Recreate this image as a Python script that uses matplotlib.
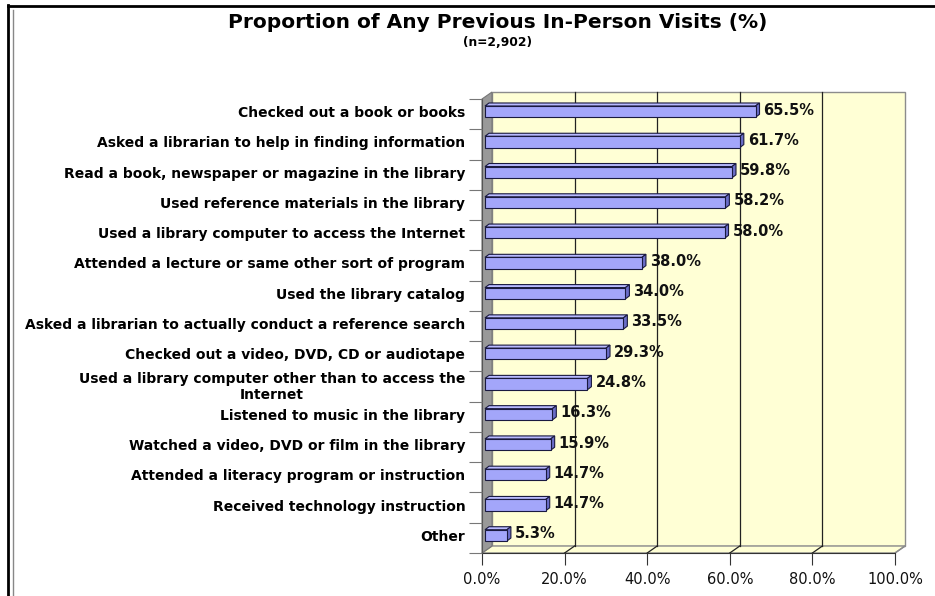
import matplotlib
matplotlib.use("Agg")
import matplotlib.pyplot as plt
from matplotlib.patches import Polygon, Rectangle
from matplotlib.lines import Line2D
import numpy as np

plt.rcParams['font.family'] = ['DejaVu Sans']

categories = [
    "Checked out a book or books",
    "Asked a librarian to help in finding information",
    "Read a book, newspaper or magazine in the library",
    "Used reference materials in the library",
    "Used a library computer to access the Internet",
    "Attended a lecture or same other sort of program",
    "Used the library catalog",
    "Asked a librarian to actually conduct a reference search",
    "Checked out a video, DVD, CD or audiotape",
    "Used a library computer other than to access the\nInternet",
    "Listened to music in the library",
    "Watched a video, DVD or film in the library",
    "Attended a literacy program or instruction",
    "Received technology instruction",
    "Other",
]
values = [65.5, 61.7, 59.8, 58.2, 58.0, 38.0, 34.0, 33.5, 29.3, 24.8,
          16.3, 15.9, 14.7, 14.7, 5.3]
xticks = [0, 20, 40, 60, 80, 100]

W, H = 935, 596
fig = plt.figure(figsize=(W / 100, H / 100), dpi=100)
fig.patch.set_facecolor('white')

# axes: front plane from x=482..895 px, y=99..553 px (from top)
left, right, top, bottom = 482, 895, 99, 553
ax = fig.add_axes([left / W, 1 - bottom / H, (right - left) / W, (bottom - top) / H])
n = len(categories)
ax.set_xlim(0, 100)
ax.set_ylim(n - 0.5, -0.5)
ax.set_facecolor('none')

ppx = (right - left) / 100.0      # px per percent
ppy = (bottom - top) / n          # px per category

def dx(px):
    return px / ppx

def dy(px):
    return px / ppy

wall_color = '#FFFFD5'
edge_gray = '#8C8C8C'
wdx, wdy = dx(10), dy(7)
y0, y1 = -0.5, n - 0.5

# back wall
ax.add_patch(Rectangle((wdx, y0 - wdy), 100, n, facecolor=wall_color,
                       edgecolor=edge_gray, lw=1, clip_on=False, zorder=0))
# floor
ax.add_patch(Polygon([(0, y1), (100, y1), (100 + wdx, y1 - wdy), (wdx, y1 - wdy)],
                     closed=True, facecolor=wall_color, edgecolor=edge_gray,
                     lw=1, clip_on=False, zorder=0.5))
# left wall
ax.add_patch(Polygon([(0, y0), (wdx, y0 - wdy), (wdx, y1 - wdy), (0, y1)],
                     closed=True, facecolor='#999999', edgecolor='#777777',
                     lw=0.8, clip_on=False, zorder=0.6))
# gridlines on wall and floor
for t in xticks[1:-1]:
    ax.add_line(Line2D([t + wdx, t + wdx], [y1 - wdy, y0 - wdy], color='#222222',
                       lw=0.9, clip_on=False, zorder=0.7))
    ax.add_line(Line2D([t, t + wdx], [y1, y1 - wdy], color='#222222',
                       lw=0.9, clip_on=False, zorder=0.7))
ax.add_line(Line2D([100, 100 + wdx], [y1, y1 - wdy], color=edge_gray,
                   lw=1, clip_on=False, zorder=0.7))

# bars with 3D faces
bx0 = dx(3)
bshift = dy(2.5)
bh = dy(11.3)
bdx, bdy = dx(4), dy(3)
front_c = '#A3A6FA'
top_c = '#B8BAFF'
side_c = '#6A6DC8'
edge_c = '#1A1A40'
for i, v in enumerate(values):
    yc = i - bshift
    ytop = yc - bh / 2
    ybot = yc + bh / 2
    x1 = bx0 + v
    ax.add_patch(Polygon([(bx0, ytop), (x1, ytop), (x1 + bdx, ytop - bdy), (bx0 + bdx, ytop - bdy)],
                         closed=True, facecolor=top_c, edgecolor=edge_c, lw=0.8, zorder=2))
    ax.add_patch(Polygon([(x1, ytop), (x1, ybot), (x1 + bdx, ybot - bdy), (x1 + bdx, ytop - bdy)],
                         closed=True, facecolor=side_c, edgecolor=edge_c, lw=0.8, zorder=2))
    ax.add_patch(Rectangle((bx0, ytop), v, bh, facecolor=front_c,
                           edgecolor=edge_c, lw=0.8, zorder=3))
    ax.text(x1 + bdx + dx(4), yc - dy(1.5), f"{v:.1f}%", ha='left', va='center',
            fontsize=10.5, fontweight='bold', color='#111111', zorder=5)

# axes styling
for s in ['top', 'right']:
    ax.spines[s].set_visible(False)
ax.spines['left'].set_color('#555555')
ax.spines['bottom'].set_color('#333333')
ax.spines['left'].set_zorder(1)
ax.spines['bottom'].set_zorder(1)

ax.set_xticks(xticks)
ax.set_xticklabels([f"{t:.1f}%" for t in xticks])
ax.tick_params(axis='x', direction='out', length=8.6, width=0.8, color='#333333',
               pad=5, labelsize=10.5, labelcolor='#111111')

ax.set_yticks(np.arange(n) - dy(2.5))
ax.set_yticklabels(categories, fontweight='bold', fontsize=10, multialignment='center')
ax.set_yticks(np.arange(n + 1) - 0.5, minor=True)
ax.tick_params(axis='y', which='major', length=0, pad=12)
ax.tick_params(axis='y', which='minor', direction='out', length=9.4, width=0.8,
               color='#777777')

# title
fig.text(498 / W, 1 - 22 / H, "Proportion of Any Previous In-Person Visits (%)",
         ha='center', va='center', fontsize=14.5, fontweight='bold')
fig.text(498 / W, 1 - 43 / H, "(n=2,902)", ha='center', va='center',
         fontsize=8.8, fontweight='bold')

# frame lines
fig.add_artist(Line2D([7.5 / W, 1], [1 - 5.5 / H, 1 - 5.5 / H], transform=fig.transFigure,
                      color='black', lw=2))
fig.add_artist(Line2D([7.5 / W, 7.5 / W], [1 - 5 / H, 0], transform=fig.transFigure,
                      color='black', lw=2))
fig.add_artist(Line2D([12.5 / W, 12.5 / W], [1 - 10 / H, 0], transform=fig.transFigure,
                      color='#888888', lw=1))

fig.savefig('out.png', dpi=100)
